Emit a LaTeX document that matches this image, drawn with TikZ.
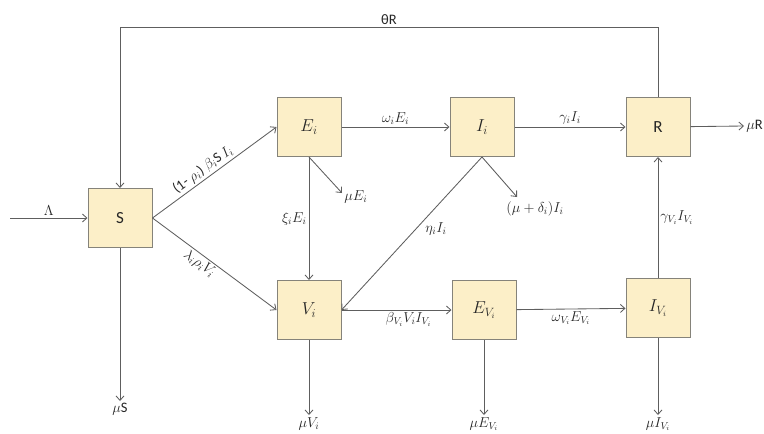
\documentclass[tikz,border=0pt]{standalone}
\usepackage{fontspec}
\setsansfont{Carlito}
\usetikzlibrary{arrows.meta}
\definecolor{boxfill}{HTML}{FCEFC8}
\definecolor{boxline}{HTML}{85837A}
\definecolor{flowline}{HTML}{5E5E5E}
\definecolor{txt}{HTML}{262626}
\begin{document}
\begin{tikzpicture}[x=1pt,y=-1pt,
  comp/.style={draw=boxline, fill=boxfill, line width=1pt,
    minimum width=64pt, minimum height=59pt, inner sep=0pt,
    text=txt, font=\fontsize{17}{19}\selectfont},
  flow/.style={draw=flowline, line width=0.85pt,
    -{Straight Barb[length=4.5pt,width=8pt]}},
  lbl/.style={text=txt, font=\fontsize{14.5}{16}\selectfont, inner sep=2pt},
  every node/.append style={text=txt}]
\useasboundingbox (0,0) rectangle (764,434);

% compartments
\node[comp] (S)   at (120,218) {\sffamily S};
\node[comp] (E)   at (309,127) {$E_i$};
\node[comp] (I)   at (482,127) {$I_i$};
\node[comp] (R)   at (658,127) {\sffamily R};
\node[comp] (V)   at (309,310) {$V_i$};
\node[comp] (EV)  at (484,310) {$E_{V_i}$};
\node[comp] (IV)  at (658,308) {$I_{V_i}$};

% free ends of in- and outflows
\coordinate (in)   at (10,218);
\coordinate (dS)   at (120,401);
\coordinate (dE)   at (342,193);
\coordinate (dI)   at (517,197);
\coordinate (dR)   at (744,126);
\coordinate (dV)   at (309,415);
\coordinate (dEV)  at (484,415);
\coordinate (dIV)  at (658,415);

% recruitment and loss of immunity
\draw[flow] (in) -- node[lbl, above] {$\Lambda$} (S);
\draw[flow] (R.north) -- (R.north |- 0,27)
  -- node[lbl, above] {\sffamily θR} (S.north |- 0,27) -- (S.north);

% transitions
\draw[flow] (S.east) -- node[lbl, pos=0.45, above, sloped]
  {\sffamily(1- $\rho_i$) $\beta_i$S $I_i$} (E.west);
\draw[flow] (S.east) -- node[lbl, pos=0.42, below, sloped]
  {$\lambda_i\rho_i V_i$} (V.west);
\draw[flow] (E) -- node[lbl, above] {$\omega_i E_i$} (I);
\draw[flow] (I) -- node[lbl, above] {$\gamma_i I_i$} (R);
\draw[flow] (E) -- node[lbl, left] {$\xi_i E_i$} (V);
\draw[flow] (I.south) -- node[lbl, pos=0.47, right=7pt] {$\eta_i I_i$} (V.east);
\draw[flow] (V) -- node[lbl, below, xshift=12pt] {$\beta_{V_i} V_i I_{V_i}$} (EV);
\draw[flow] (EV) -- node[lbl, below] {$\omega_{V_i} E_{V_i}$} (IV);
\draw[flow] (IV) -- node[lbl, right] {$\gamma_{V_i} I_{V_i}$} (R);

% deaths
\draw[flow] (S) -- (dS) node[lbl, below] {\sffamily$\mu$S};
\draw[flow] (E.south) -- (dE) node[lbl, anchor=west, yshift=-4pt] {$\mu E_i$};
\draw[flow] (I.south) -- (dI) node[lbl, anchor=north, xshift=18pt, yshift=-2pt] {$(\mu+\delta_i)I_i$};
\draw[flow] (R) -- (dR) node[lbl, right] {\sffamily$\mu$R};
\draw[flow] (V) -- (dV) node[lbl, below] {$\mu V_i$};
\draw[flow] (EV) -- (dEV) node[lbl, below] {$\mu E_{V_i}$};
\draw[flow] (IV) -- (dIV) node[lbl, below] {$\mu I_{V_i}$};
\end{tikzpicture}
\end{document}
